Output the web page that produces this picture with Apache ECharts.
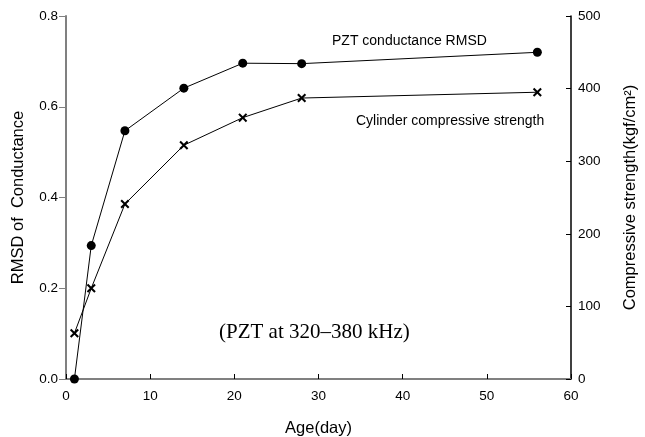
<!DOCTYPE html>
<html>
<head>
<meta charset="utf-8">
<script src="https://cdn.jsdelivr.net/npm/echarts@6/dist/echarts.min.js"></script>
<style>
  html, body { margin: 0; padding: 0; background: #fff; }
  #chart { width: 645px; height: 437px; }
</style>
</head>
<body>
<div id="chart"></div>
<script>
// 数据
var ages = [1, 3, 7, 14, 21, 28, 56];
var rmsd = [0.0, 0.294, 0.547, 0.641, 0.696, 0.695, 0.72];
var strength = [63, 125, 241, 322, 360, 387, 395];
var xTicks = [0, 10, 20, 30, 40, 50, 60];

var crossMark = 'path://M0,1.6L1.6,0L5,3.4L8.4,0L10,1.6L6.6,5L10,8.4L8.4,10L5,6.6L1.6,10L0,8.4L3.4,5Z';
var font = 'Liberation Sans, Arial, sans-serif';

var myChart = echarts.init(document.getElementById('chart'));
var option = {
  animation: false,
  grid: { left: 66, right: 74, top: 16, bottom: 58, containLabel: false, outerBoundsMode: 'none' },
  xAxis: [
    {
      type: 'value',
      min: xTicks[0],
      max: xTicks[xTicks.length - 1],
      interval: 10,
      name: 'Age(day)',
      nameLocation: 'middle',
      nameGap: 41,
      nameTextStyle: { color: '#000', fontSize: 16.5, fontFamily: font },
      axisLine: { onZero: false, lineStyle: { color: '#000', width: 1.5 } },
      axisTick: { inside: true, length: 5, lineStyle: { color: '#000' } },
      axisLabel: { color: '#000', fontSize: 13.5, fontFamily: font, margin: 10 },
      splitLine: { show: false }
    },
    {
      type: 'value',
      position: 'top',
      min: 0,
      max: 60,
      axisLine: { show: true, lineStyle: { color: '#808080', width: 2 } },
      axisTick: { show: false },
      axisLabel: { show: false },
      splitLine: { show: false }
    }
  ],
  yAxis: [
    {
      type: 'value',
      min: 0,
      max: 0.8,
      interval: 0.2,
      name: 'RMSD of  Conductance',
      nameLocation: 'middle',
      nameGap: 39,
      nameTextStyle: { color: '#000', fontSize: 16.5, fontFamily: font },
      axisLine: { show: true, onZero: false, lineStyle: { color: '#808080', width: 2 } },
      axisTick: { show: true, length: 7, lineStyle: { color: '#808080' } },
      axisLabel: { color: '#000', fontSize: 13.5, fontFamily: font, margin: 8,
        formatter: function (v) { return v.toFixed(1); } },
      splitLine: { show: false }
    },
    {
      type: 'value',
      position: 'right',
      min: 0,
      max: 500,
      interval: 100,
      name: 'Compressive strength(kgf/cm\u00B2)',
      nameLocation: 'middle',
      nameGap: 51,
      nameTextStyle: { color: '#000', fontSize: 16.5, fontFamily: font },
      axisLine: { show: true, onZero: false, lineStyle: { color: '#000', width: 1.5 } },
      axisTick: { show: true, inside: true, length: 5, lineStyle: { color: '#000' } },
      axisLabel: { color: '#000', fontSize: 13.5, fontFamily: font, margin: 7 },
      splitLine: { show: false }
    }
  ],
  series: [
    {
      name: 'PZT conductance RMSD',
      type: 'line',
      yAxisIndex: 0,
      data: ages.map(function (a, i) { return [a, rmsd[i]]; }),
      symbol: 'circle',
      symbolSize: 9,
      showAllSymbol: true,
      lineStyle: { color: '#000', width: 1 },
      itemStyle: { color: '#000' },
      z: 3
    },
    {
      name: 'Cylinder compressive strength',
      type: 'line',
      yAxisIndex: 1,
      data: ages.map(function (a, i) { return [a, strength[i]]; }),
      symbol: crossMark,
      symbolSize: 9,
      showAllSymbol: true,
      lineStyle: { color: '#000', width: 1 },
      itemStyle: { color: '#000' },
      z: 3
    }
  ],
  graphic: [
    {
      type: 'text', left: 332, top: 34,
      style: { text: 'PZT conductance RMSD', fill: '#000', fontSize: 14, fontFamily: font }
    },
    {
      type: 'text', left: 356, top: 114,
      style: { text: 'Cylinder compressive strength', fill: '#000', fontSize: 14, fontFamily: font }
    },
    {
      type: 'text', left: 219, top: 322,
      style: { text: '(PZT at 320\u2013380 kHz)', fill: '#000', fontSize: 21,
        fontFamily: 'Liberation Serif, Times New Roman, serif' }
    }
  ]
};

option && myChart.setOption(option);
window.addEventListener('resize', function () {
  myChart.resize();
});
</script>
</body>
</html>
